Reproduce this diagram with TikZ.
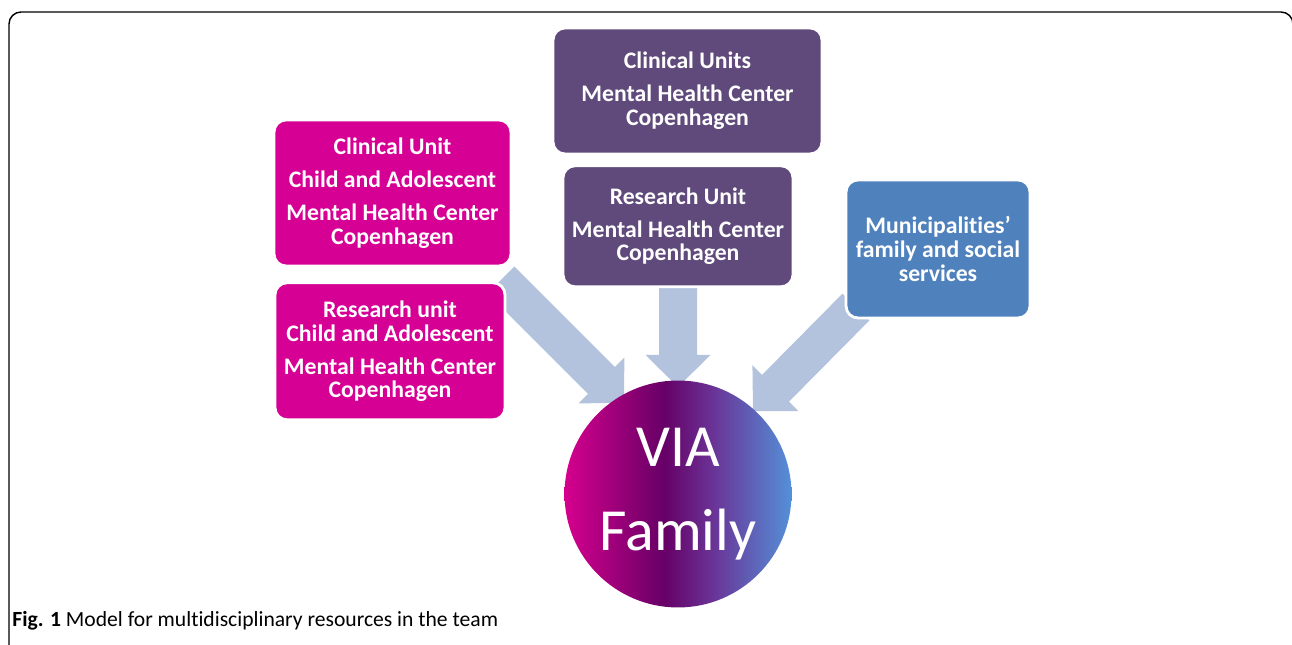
\documentclass[tikz,border=0pt]{standalone}
\usepackage{fontspec}
\setmainfont{Carlito}[Ligatures=NoCommon]
\usetikzlibrary{calc, positioning}

\definecolor{unitpink}{RGB}{214,0,148}
\definecolor{unitplum}{RGB}{96,74,123}
\definecolor{unitblue}{RGB}{79,129,189}
\definecolor{feedgrey}{RGB}{179,195,221}
\definecolor{viapink}{RGB}{214,0,142}
\definecolor{viadark}{RGB}{102,0,102}
\definecolor{viaviolet}{RGB}{106,48,148}
\definecolor{viablue}{RGB}{84,144,216}

\pgfdeclarehorizontalshading{viashade}{100bp}{color(0bp)=(viapink); color(25bp)=(viapink); color(47bp)=(viadark); color(57bp)=(viaviolet); color(75bp)=(viablue); color(100bp)=(viablue)}

\begin{document}
\begin{tikzpicture}[x=0.02cm, y=0.02cm]
	\tikzset{unit/.style={rounded corners=0.24cm, draw=white, line width=1.6pt, text=white, align=center, inner sep=0pt, font=\bfseries\fontsize{13.5}{13.6}\selectfont},
		feed/.style={fill=feedgrey} }
	\useasboundingbox (0,0) rectangle (1292,645);

	% frame round the figure
	\draw[line width=0.8pt, rounded corners=0.24cm] (9,-2) -- (9,633) -- (1293,633) -- (1293,-2);

	% block arrows into the hub, drawn first so the boxes cover their tails
	\coordinate (hub) at (678,151);
	\coordinate (la) at (501,365);
	\coordinate (lt) at ($(hub)+(-54,91)$);
	\coordinate (ma) at (678,370);
	\coordinate (mt) at ($(hub)+(0,107)$);
	\coordinate (ra) at (856,338);
	\coordinate (rt) at ($(hub)+(75,83)$);
	\foreach \s/\t in {la/lt, ma/mt, ra/rt} {
		\path ($(\t)!0.64cm!(\s)$) coordinate (bk);
		\fill[feed] ($(\s)!0.38cm!90:(\t)$) -- ($(bk)!0.38cm!90:(\t)$) -- ($(bk)!0.65cm!90:(\t)$) -- (\t)
			-- ($(bk)!0.65cm!-90:(\t)$) -- ($(bk)!0.38cm!-90:(\t)$) -- ($(\s)!0.38cm!-90:(\t)$) -- cycle;
	}

	\node[unit, fill=unitpink, minimum width=4.74cm, minimum height=2.92cm] (clinic) at (392.5,452)
		{Clinical Unit\\[5.1pt] Child and Adolescent\\[5.1pt] Mental Health Center\\ Copenhagen};
	\node[unit, fill=unitpink, minimum width=4.6cm, minimum height=2.74cm, below=0.28cm of clinic, xshift=-0.05cm] (research)
		{Research unit\\ Child and Adolescent\\[5.1pt] Mental Health Center\\ Copenhagen};
	\node[unit, fill=unitplum, minimum width=5.38cm, minimum height=2.52cm] (mhcclinic) at (687.5,554)
		{Clinical Units\\[5.1pt] Mental Health Center\\ Copenhagen};
	\node[unit, fill=unitplum, minimum width=4.6cm, minimum height=2.42cm, below=0.18cm of mhcclinic, xshift=-0.19cm] (mhcresearch)
		{Research Unit\\[5.1pt] Mental Health Center\\ Copenhagen};
	\node[unit, fill=unitblue, minimum width=3.68cm, minimum height=2.76cm] (municip) at (938,396)
		{Municipalities’\\ family and social\\ services};

	\node[circle, shading=viashade, minimum size=4.54cm, inner sep=0pt, text=white, align=center,
		font=\fontsize{34}{47.6}\selectfont] (via) at (hub) {VIA\\ Family};

	\node[anchor=base west, inner sep=0pt, font=\fontsize{12.3}{14}\selectfont] (caption) at (12,18)
		{\textbf{Fig. 1} Model for multidisciplinary resources in the team};
\end{tikzpicture}
\end{document}
